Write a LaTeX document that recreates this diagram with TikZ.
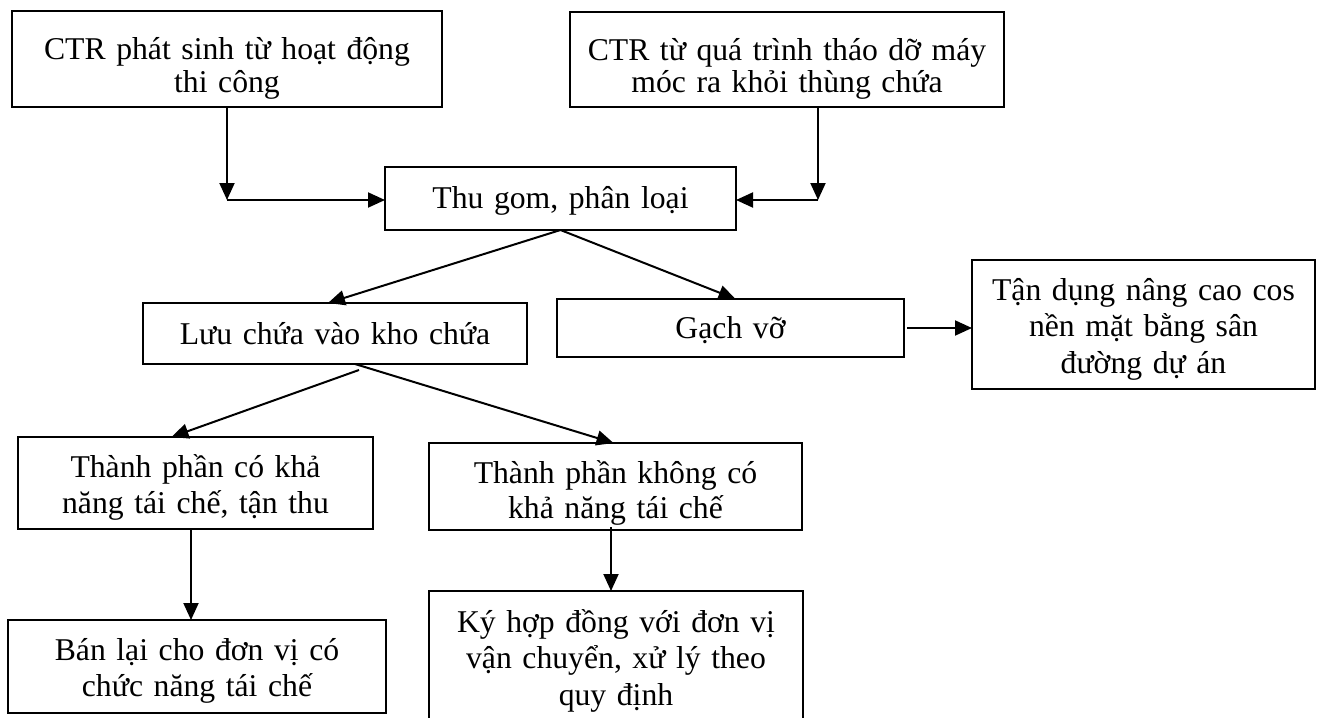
\documentclass[tikz,border=0pt]{standalone}
\usepackage{fontspec}
\setmainfont{Liberation Serif}
\usetikzlibrary{arrows.meta,calc}
\begin{document}
\begin{tikzpicture}[x=0.5pt, y=-0.5pt,
  box/.style={draw, line width=1pt, inner sep=0pt, outer sep=0pt},
  lbl/.style={inner sep=0pt, outer sep=0pt, anchor=base, align=center},
  arr/.style={line width=1pt, -{Triangle[length=8.5pt,width=7.5pt]}},
  ]
\useasboundingbox (0,0) rectangle (1319,718);

% boxes
\node[box, minimum width=215pt,   minimum height=48pt]   (b1)  at (227,59)      {};
\node[box, minimum width=217pt,   minimum height=47.5pt] (b2)  at (787,59.5)    {};
\node[box, minimum width=175.5pt, minimum height=31.5pt] (b3)  at (560.5,198.5) {};
\node[box, minimum width=192pt,   minimum height=30.5pt] (b4)  at (335,333.5)   {};
\node[box, minimum width=173.5pt, minimum height=29pt]   (b5)  at (730.5,328)   {};
\node[box, minimum width=171.5pt, minimum height=64.5pt] (b6)  at (1143.5,324.5){};
\node[box, minimum width=177.5pt, minimum height=46pt]   (b7)  at (195.5,483)   {};
\node[box, minimum width=186.5pt, minimum height=43.5pt] (b8)  at (615.5,486.5) {};
\node[box, minimum width=189pt,   minimum height=46.5pt] (b9)  at (197,666.5)   {};
\node[box, minimum width=187pt,   minimum height=67pt]   (b10) at (616,658)     {};

% texts (anchored on the first baseline)
\node[lbl, text width=215pt, font=\fontsize{15.85}{16.5}\selectfont] (t1) at (227,59)
  {CTR phát sinh từ hoạt động\\thi công};
\node[lbl, text width=217pt, font=\fontsize{15.85}{16}\selectfont] (t2) at (787,60)
  {CTR từ quá trình tháo dỡ máy\\móc ra khỏi thùng chứa};
\node[lbl, text width=175pt, font=\fontsize{15.85}{18}\selectfont] (t3) at (560.5,208)
  {Thu gom, phân loại};
\node[lbl, text width=192pt, font=\fontsize{15.85}{18}\selectfont] (t4) at (335,344)
  {Lưu chứa vào kho chứa};
\node[lbl, text width=173pt, font=\fontsize{15.85}{18}\selectfont] (t5) at (730.5,338)
  {Gạch vỡ};
\node[lbl, text width=171pt, font=\fontsize{15.85}{18.25}\selectfont] (t6) at (1143.5,300)
  {Tận dụng nâng cao cos\\nền mặt bằng sân\\đường dự án};
\node[lbl, text width=177pt, font=\fontsize{15.85}{18}\selectfont] (t7) at (195.5,477)
  {Thành phần có khả\\năng tái chế, tận thu};
\node[lbl, text width=186pt, font=\fontsize{15.85}{17.5}\selectfont] (t8) at (615.5,483)
  {Thành phần không có\\khả năng tái chế};
\node[lbl, text width=189pt, font=\fontsize{15.85}{18}\selectfont] (t9) at (197,660)
  {Bán lại cho đơn vị có\\chức năng tái chế};
\node[lbl, text width=187pt, font=\fontsize{15.85}{18.25}\selectfont] (t10) at (616,632)
  {Ký hợp đồng với đơn vị\\vận chuyển, xử lý theo\\quy định};

% connectors
\coordinate (j1) at (227,200);
\coordinate (j2) at (818,200);
\draw[arr] (b1.south) -- (j1);
\draw[arr] (j1) -- (j1 -| b3.west);
\draw[arr] (j2 |- b2.south) -- (j2);
\draw[arr] (j2) -- (j2 -| b3.east);

\draw[arr] (b3.south) -- ($(b4.north)+(-7,0)$);
\draw[arr] (b3.south) -- ($(b5.north)+(5,0)$);

\coordinate (g5) at ($(b5.east)+(3,0)$);
\draw[arr] (g5) -- (g5 -| b6.west);

\draw[arr] ($(b4.south)+(24,6)$) -- ($(b7.north)+(-24,0)$);
\draw[arr] ($(b4.south)+(20,0)$) -- ($(b8.north)+(-2,0)$);

\draw[arr] ($(b7.south)+(-4.5,0)$) -- ($(b9.north)+(-6,0)$);
\draw[arr] ($(b8.south)+(-4.5,-3)$) -- ($(b10.north)+(-5,0)$);
\end{tikzpicture}
\end{document}
